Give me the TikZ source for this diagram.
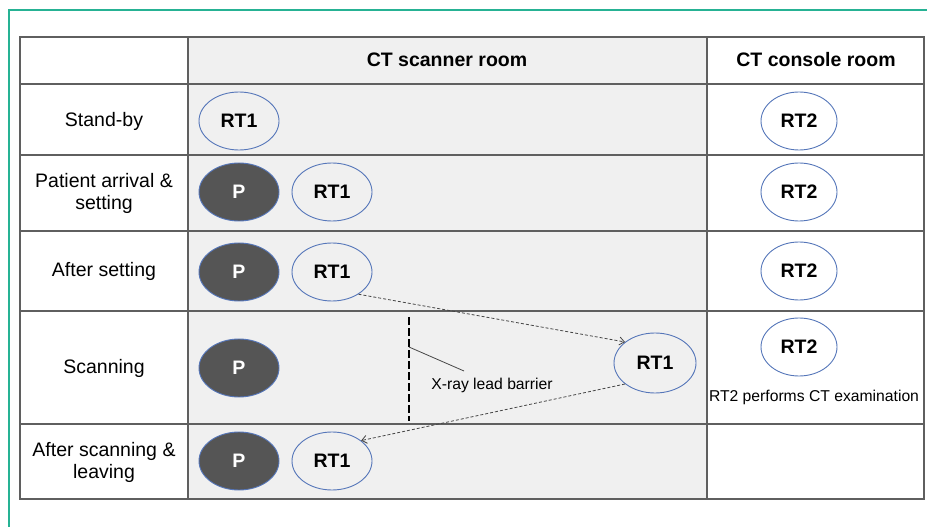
\documentclass[tikz,border=0pt]{standalone}
\usepackage{fontspec}
\setmainfont{Liberation Sans}
\usetikzlibrary{arrows.meta,shapes.geometric}
\definecolor{frameteal}{RGB}{38,178,148}
\definecolor{cellgray}{RGB}{240,240,240}
\definecolor{gridgray}{RGB}{95,95,95}
\definecolor{ellblue}{RGB}{85,118,185}
\definecolor{pgray}{RGB}{85,85,85}
\definecolor{arrowgray}{RGB}{70,70,70}
\begin{document}
\begin{tikzpicture}[x=1bp,y=-1bp,
  rt/.style={ellipse, draw=ellblue, line width=0.9bp, minimum width=80bp, minimum height=58bp, inner sep=0pt,
             font=\fontsize{19.5bp}{22bp}\selectfont\bfseries},
  rttwo/.style={rt, minimum width=76bp},
  pat/.style={ellipse, draw=ellblue, line width=0.9bp, fill=pgray, minimum width=80bp, minimum height=58bp, inner sep=0pt,
             text=white, font=\fontsize{19.5bp}{22bp}\selectfont\bfseries},
  rowlabel/.style={align=center, inner sep=0pt, font=\fontsize{19.5bp}{22bp}\selectfont},
  header/.style={inner sep=0pt, font=\fontsize{19.5bp}{22bp}\selectfont\bfseries},
  smalltext/.style={inner sep=0pt, font=\fontsize{15.7bp}{18bp}\selectfont},
  grid/.style={draw=gridgray, line width=1.3bp},
  moveline/.style={draw=arrowgray, line width=0.8bp, dash pattern=on 3bp off 2bp,
             -{Straight Barb[length=5bp,width=8bp,line width=0.8bp]}},
  barrier/.style={draw=black, line width=2.8bp, dash pattern=on 8bp off 3bp},
  leader/.style={draw=arrowgray, line width=0.8bp}
]
\useasboundingbox (0,0) rectangle (927,527);
% frame
\draw[frameteal, line width=2bp] (9,530) -- (9,10) -- (930,10);
% table
\fill[cellgray] (188,37) rectangle (707,499);
\draw[grid] (20,37) rectangle (924,499);
\foreach \yy in {84,155,231,311,424} \draw[grid] (20,\yy) -- (924,\yy);
\foreach \xx in {188,707} \draw[grid] (\xx,37) -- (\xx,499);
% headers
\node[header] (hscan) at (447,60) {CT scanner room};
\node[header] (hcons) at (816,60) {CT console room};
% row labels
\node[rowlabel] (l1) at (104,121) {Stand-by};
\node[rowlabel] (l2) at (104,193) {Patient arrival \&\\setting};
\node[rowlabel] (l3) at (104,271) {After setting};
\node[rowlabel] (l4) at (104,368) {Scanning};
\node[rowlabel] (l5) at (104,462) {After scanning \&\\leaving};
% row 1
\node[rt] (r1rt1) at (239,121) {RT1};
\node[rttwo] (r1rt2) at (799,121) {RT2};
% row 2
\node[pat] (r2p) at (239,192) {P};
\node[rt] (r2rt1) at (332,192) {RT1};
\node[rttwo] (r2rt2) at (799,192) {RT2};
% row 3
\node[pat] (r3p) at (239,272) {P};
\node[rt] (r3rt1) at (332,272) {RT1};
\node[rttwo] (r3rt2) at (799,271) {RT2};
% row 4
\node[pat] (r4p) at (239,368) {P};
\node[rt, minimum width=82bp, minimum height=60bp] (r4rt1) at (655,363) {RT1};
\node[rttwo] (r4rt2) at (799,347) {RT2};
\node[smalltext] (r4txt) at (814,397) {RT2 performs CT examination};
\coordinate (bt) at (409,317);
\coordinate (bb) at (409,421);
\draw[barrier] (bt) -- (bb);
\coordinate (bmid) at (409,347);
\coordinate (lend) at (464,371);
\draw[leader] (bmid) -- (lend);
\node[smalltext] (blabel) at (492,385) {X-ray lead barrier};
% row 5
\node[pat] (r5p) at (239,461) {P};
\node[rt] (r5rt1) at (332,461) {RT1};
% movements
\draw[moveline] (r3rt1.-40) -- (r4rt1.145);
\draw[moveline] (r4rt1.215) -- (r5rt1.35);
\end{tikzpicture}
\end{document}
